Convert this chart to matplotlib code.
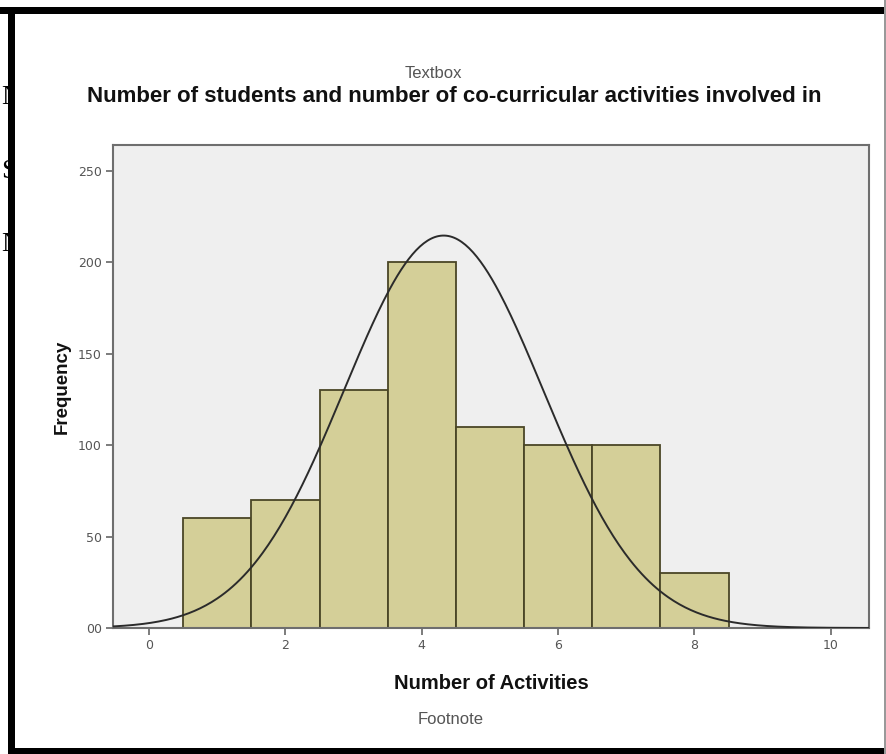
import numpy as np
import matplotlib
matplotlib.use("Agg")
import matplotlib.pyplot as plt
from matplotlib.patches import Rectangle

# ---- data ----
activities = [1, 2, 3, 4, 5, 6, 7, 8]
frequency = [60, 70, 130, 200, 110, 100, 100, 30]
curve_mean = 4.32
curve_sd = 1.46
curve_n = 785
y_ticks = [0, 50, 100, 150, 200, 250]
y_tick_labels = ["00", "50", "100", "150", "200", "250"]
x_ticks = [0, 2, 4, 6, 8, 10]
x_tick_labels = ["0", "2", "4", "6", "8", "10"]
title = "Number of students and number of co-curricular activities involved in"
stray_letters = ["N", "S", "N"]

W, H = 886, 754
fig = plt.figure(figsize=(W / 100, H / 100), dpi=100)
fig.patch.set_facecolor("white")

def fx(px):
    return px / W

def fy(py):
    return 1 - py / H

# stray letters of text behind the panel
for letter, py in zip(stray_letters, [97, 172, 245]):
    fig.text(fx(1), fy(py), letter, family="Liberation Serif", fontsize=20,
             ha="left", va="center", color="black", zorder=-3)

# white panel covering letters
fig.patches.append(Rectangle((fx(8), 0), 1 - fx(8), fy(7), transform=fig.transFigure,
                             facecolor="white", edgecolor="none", zorder=-2))

ax = fig.add_axes([fx(113), fy(628), fx(869) - fx(113), fy(145) - fy(628)])
ax.set_facecolor("#EFEFEF")

ax.bar(activities, frequency, width=1.0, color="#D4CF98", edgecolor="#4A4626",
       linewidth=1.3, zorder=2)

xs = np.linspace(-0.53, 10.56, 400)
ys = curve_n / (curve_sd * np.sqrt(2 * np.pi)) * np.exp(-(xs - curve_mean) ** 2 / (2 * curve_sd ** 2))
ax.plot(xs, ys, color="#2b2b2b", linewidth=1.4, zorder=3)

ax.set_xlim(-0.53, 10.56)
ax.set_ylim(0, 264)
ax.set_xticks(x_ticks)
ax.set_xticklabels(x_tick_labels)
ax.set_yticks(y_ticks)
ax.set_yticklabels(y_tick_labels)
ax.tick_params(axis="both", direction="out", length=5, width=1.2, color="#666666",
               labelcolor="#555555", labelsize=9, pad=3)
for s in ax.spines.values():
    s.set_color("#6E6E6E")
    s.set_linewidth(1.5)

ax.set_ylabel("Frequency", fontsize=13.5, fontweight="bold", family="Liberation Sans",
              labelpad=5, color="#111111")
ax.set_xlabel("Number of Activities", fontsize=14.5, fontweight="bold", family="Liberation Sans",
              labelpad=16, color="#111111")

fig.text(fx(454), fy(97), title, ha="center", va="center", fontsize=16, fontweight="bold",
         family="Liberation Sans", color="#111111")
fig.text(fx(433), fy(73), "Textbox", ha="center", va="center", fontsize=12,
         family="Liberation Sans", color="#555555")
fig.text(fx(451), fy(720), "Footnote", ha="center", va="center", fontsize=12,
         family="Liberation Sans", color="#555555")

# frame
fig.patches.append(Rectangle((0, fy(14)), 1, fy(7) - fy(14), transform=fig.transFigure,
                             facecolor="black", edgecolor="none", zorder=5))
fig.patches.append(Rectangle((fx(8), 0), fx(15) - fx(8), fy(7), transform=fig.transFigure,
                             facecolor="black", edgecolor="none", zorder=5))
fig.patches.append(Rectangle((fx(8), 0), 1 - fx(8), fy(748), transform=fig.transFigure,
                             facecolor="black", edgecolor="none", zorder=5))
fig.patches.append(Rectangle((fx(884), 0), fx(2), 1, transform=fig.transFigure,
                             facecolor="#999999", edgecolor="none", zorder=5))

fig.savefig("out.png", dpi=100)
